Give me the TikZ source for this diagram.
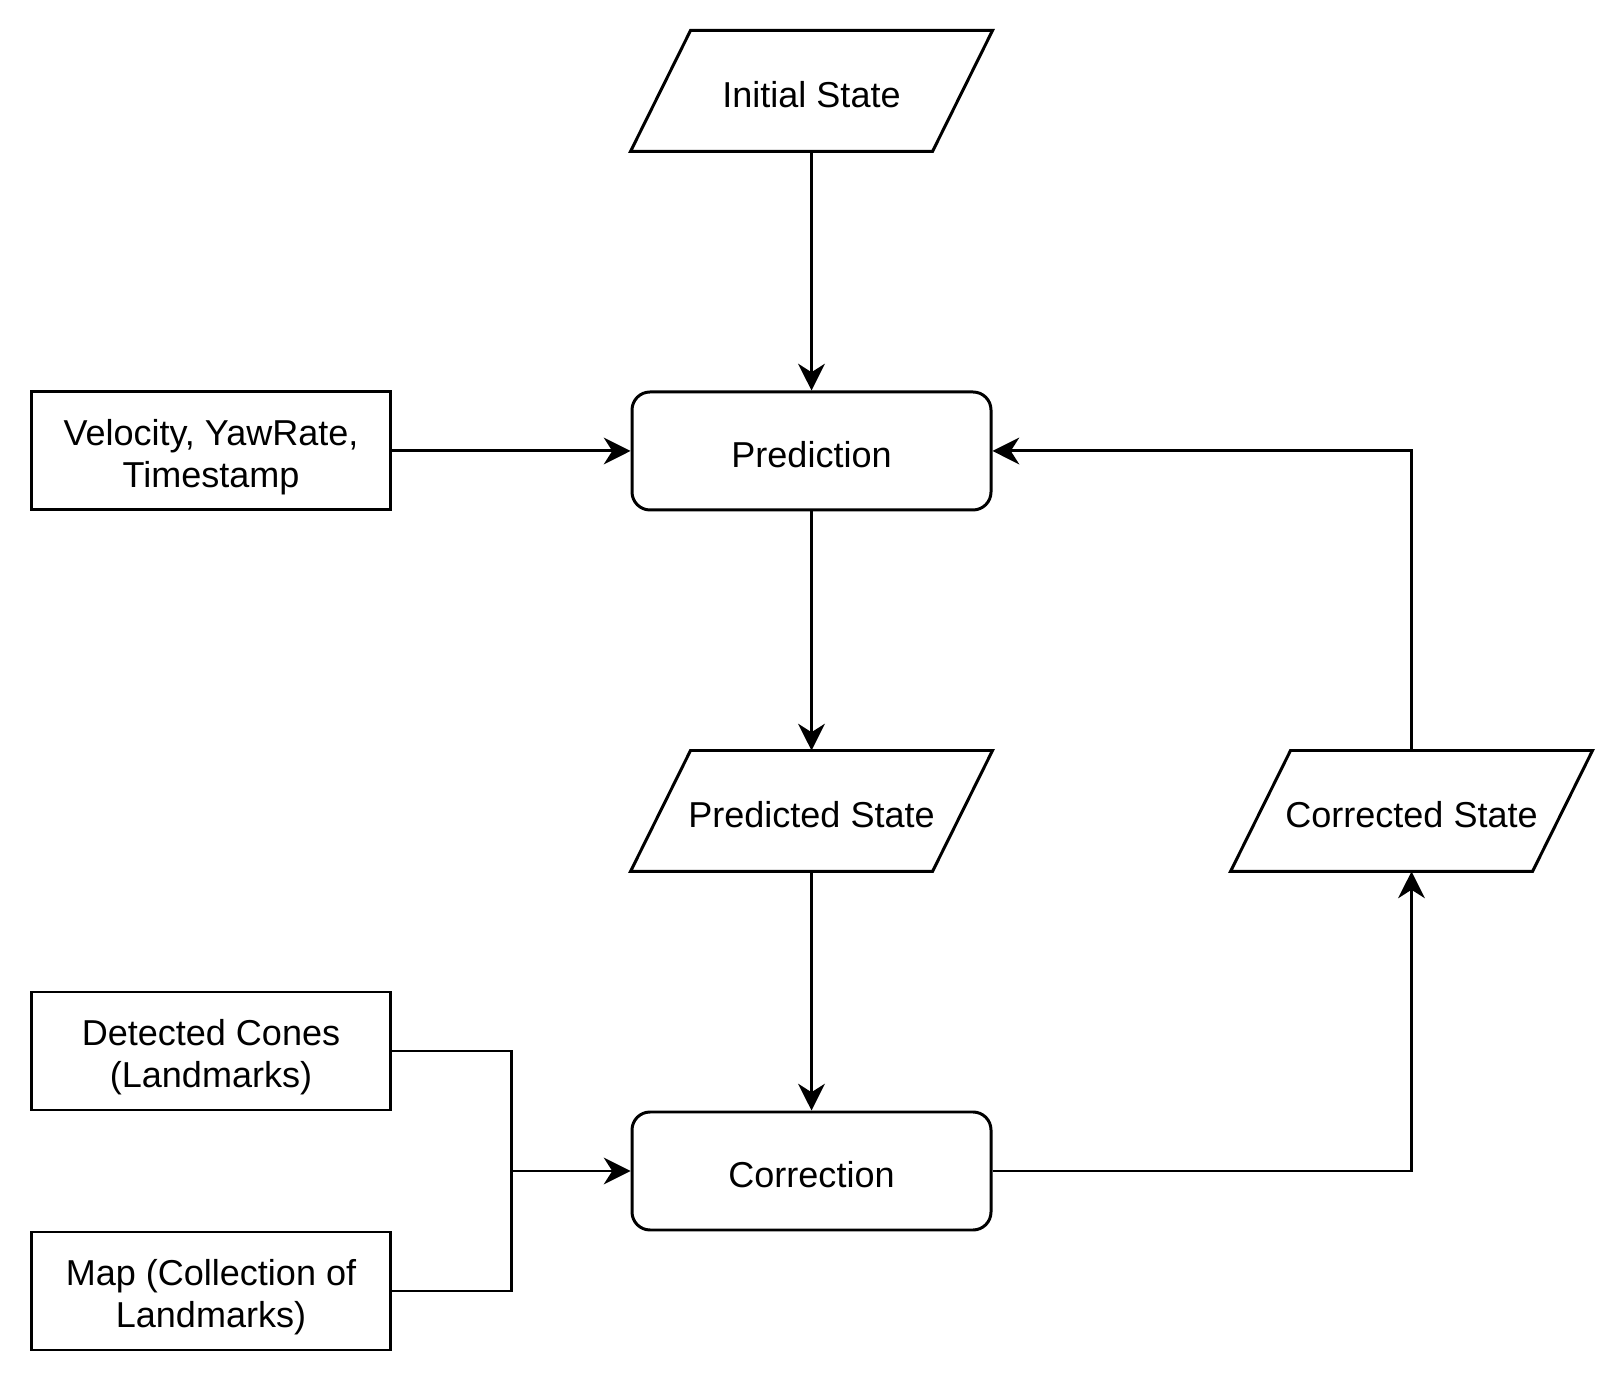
\documentclass[tikz,border=0pt]{standalone}
\usepackage{fontspec}
\setmainfont{Liberation Sans}
\usepackage{tikz}
\usetikzlibrary{arrows.meta}

\begin{document}
\begin{tikzpicture}[line width=0.85pt,
  font=\fontsize{10.25}{12.1}\selectfont,
  box/.style={draw, rectangle, minimum width=3.59cm, minimum height=1.18cm, align=center, inner sep=0pt},
  oneline/.style={text height=9.4pt, text depth=0pt},
  twoline/.style={text height=23pt},
  proc/.style={box, oneline, rounded corners=0.18cm},
  data/.style={rectangle, minimum width=3.59cm, minimum height=1.18cm, align=center, inner sep=0pt, oneline,
    append after command={\pgfextra{\draw (\tikzlastnode.south west) -- ([xshift=0.6cm]\tikzlastnode.north west)
      -- (\tikzlastnode.north east) -- ([xshift=-0.6cm]\tikzlastnode.south east) -- cycle;}}},
  flow/.style={-{Stealth[length=7.6pt, width=7.6pt, inset=2.4pt]}}]
\useasboundingbox (0,0) rectangle (16.23,13.83);
\node [data] (init) at (8.115,12.92) {Initial State};
\node [proc] (predict) at (8.115,9.32) {Prediction};
\node [box, twoline] (vel) at (2.11,9.32) {Velocity, YawRate,\\Timestamp};
\node [data] (predstate) at (8.115,5.72) {Predicted State};
\node [data] (corrstate) at (14.115,5.72) {Corrected State};
\node [box, twoline] (cones) at (2.11,3.32) {Detected Cones\\(Landmarks)};
\node [proc] (correct) at (8.115,2.12) {Correction};
\node [box, twoline] (map) at (2.11,0.92) {Map (Collection of\\Landmarks)};
\coordinate (join) at (5.11,2.12);
\draw [flow] (init) -- (predict);
\draw [flow] (vel) -- (predict);
\draw [flow] (predict) -- (predstate);
\draw [flow] (predstate) -- (correct);
\draw (cones) -| (join);
\draw (map) -| (join);
\draw [flow] (join) -- (correct);
\draw [flow] (correct) -| (corrstate);
\draw [flow] (corrstate) |- (predict);
\end{tikzpicture}
\end{document}
